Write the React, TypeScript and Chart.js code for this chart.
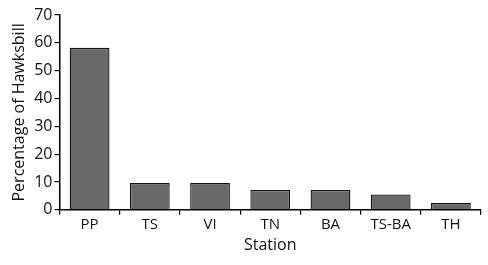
import React, { useEffect, useRef } from "react";
import { Chart, registerables } from "chart.js";

Chart.register(...registerables);

const categories = ["PP", "TS", "VI", "TN", "BA", "TS-BA", "TH"];
const values = [58.2, 9.6, 9.6, 7.1, 7.1, 5.5, 2.4];
const yTicks = [0, 10, 20, 30, 40, 50, 60, 70];

const FONT = "'Open Sans', 'DejaVu Sans', sans-serif";

export default function App() {
  const ref = useRef<HTMLCanvasElement | null>(null);
  useEffect(() => {
    document.body.style.margin = "0";
    const ctx = ref.current!.getContext("2d")!;
    const chart = new Chart(ctx, {
      type: "bar",
      data: {
        labels: categories,
        datasets: [
          {
            data: values,
            backgroundColor: "#696969",
            borderColor: "#111111",
            borderWidth: 1.3,
            categoryPercentage: 0.66,
            barPercentage: 1,
          },
        ],
      },
      options: {
        animation: false,
        responsive: false,
        maintainAspectRatio: false,
        layout: { padding: { left: 10, right: 7, top: 15, bottom: 10 } },
        plugins: { legend: { display: false }, tooltip: { enabled: false } },
        scales: {
          x: {
            offset: true,
            border: { display: true, color: "#000", width: 1.5 },
            grid: {
              offset: true,
              display: true,
              drawOnChartArea: false,
              drawTicks: true,
              tickLength: 5,
              color: "#000",
              lineWidth: 1.2,
            },
            ticks: { color: "#111", font: { family: FONT, size: 15 }, padding: 1 },
            title: {
              display: true,
              text: "Station",
              color: "#111",
              font: { family: FONT, size: 16 },
              padding: { top: 1, bottom: 0 },
            },
          },
          y: {
            min: 0,
            max: 70,
            afterBuildTicks: (axis: any) => {
              axis.ticks = yTicks.map((v) => ({ value: v }));
            },
            border: { display: true, color: "#000", width: 1.5 },
            grid: {
              display: true,
              drawOnChartArea: false,
              drawTicks: true,
              tickLength: 5,
              color: "#000",
              lineWidth: 1.2,
            },
            ticks: { color: "#111", font: { family: FONT, size: 16 }, padding: 2 },
            title: {
              display: true,
              text: "Percentage of Hawksbill",
              color: "#111",
              font: { family: FONT, size: 16 },
              padding: { top: 0, bottom: 3 },
            },
          },
        },
      },
    });
    return () => chart.destroy();
  }, []);
  return (
    <div style={{ width: 488, height: 265, position: "relative" }}>
      <canvas ref={ref} width={488} height={265} style={{ display: "block" }} />
    </div>
  );
}
